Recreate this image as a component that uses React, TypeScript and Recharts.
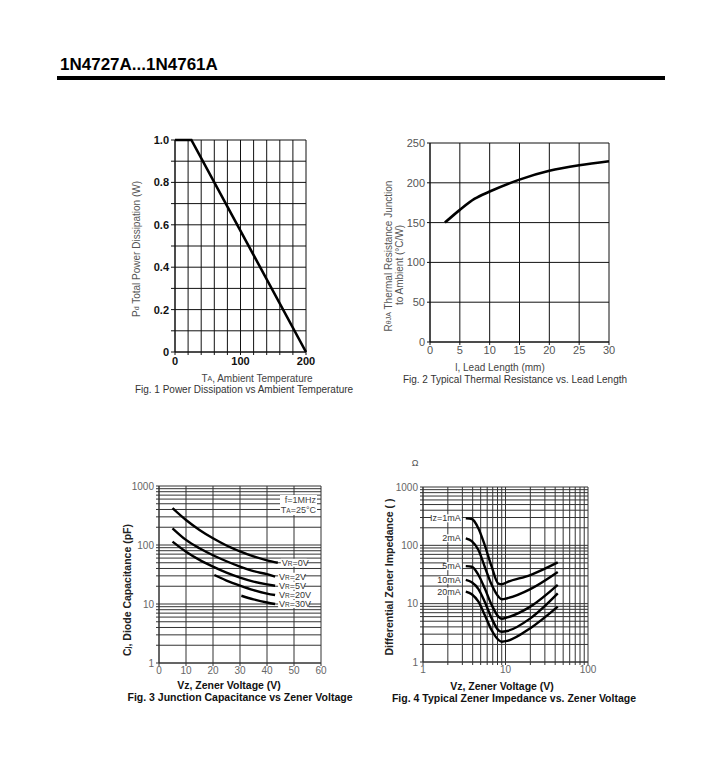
import React from "react";
import { LineChart, Line, XAxis, YAxis, CartesianGrid } from "recharts";

// ---------- Fig. 1 ----------
const FIG1_TEMP = [0, 25, 200];
const FIG1_POWER = [1.0, 1.0, 0];
const FIG1_X_TICKS = [0, 20, 40, 60, 80, 100, 120, 140, 160, 180, 200];
const FIG1_X_LABELS = [0, 100, 200];
const FIG1_Y_TICKS = [0, 0.1, 0.2, 0.3, 0.4, 0.5, 0.6, 0.7, 0.8, 0.9, 1.0];
const FIG1_Y_LABELS = [0, 0.2, 0.4, 0.6, 0.8, 1.0];

// ---------- Fig. 2 ----------
const FIG2_LEAD = [2.5, 5, 7.5, 10, 15, 20, 25, 30];
const FIG2_RTH = [150, 166, 180, 189, 204, 215, 222, 227];
const FIG2_X_TICKS = [0, 5, 10, 15, 20, 25, 30];
const FIG2_Y_TICKS = [0, 50, 100, 150, 200, 250];

// ---------- Fig. 3 ----------
const FIG3_VZ_A = [5, 10, 15, 20, 25, 30, 35, 40, 44];
const FIG3_VR0 = [420, 265, 180, 130, 98, 78, 64, 55, 50];
const FIG3_VZ_B = [5, 10, 15, 20, 25, 30, 35, 40, 43];
const FIG3_VR2 = [192, 122, 88, 67, 53, 43, 36, 32, 29];
const FIG3_VR5 = [114, 77, 56, 43, 34, 28, 24, 21.5, 20.4];
const FIG3_VZ_C = [20.5, 25, 30, 35, 40, 43];
const FIG3_VR20 = [31, 25, 20.5, 17.2, 15, 14.2];
const FIG3_VZ_D = [30.5, 35, 40, 43];
const FIG3_VR30 = [13.8, 12, 10.6, 10];
const FIG3_X_TICKS = [0, 10, 20, 30, 40, 50, 60];
const FIG3_Y_TICKS = [
  1, 2, 3, 4, 5, 6, 7, 8, 9, 10, 20, 30, 40, 50, 60, 70, 80, 90, 100, 200, 300, 400, 500, 600, 700, 800, 900, 1000,
];
const FIG3_Y_LABELS = [1, 10, 100, 1000];

// ---------- Fig. 4 ----------
const FIG4_VZ = [3.3, 3.9, 4.7, 5.6, 6.8, 8.2, 9.0, 10.5, 20, 43];
const FIG4_IZ1 = [290, 283, 195, 101, 43, 22, 21.5, 23.5, 31, 51];
const FIG4_IZ2 = [132, 118, 83, 43, 21, 13.2, 11.9, 12.4, 17.8, 35];
const FIG4_IZ5 = [44, 43, 31, 18.3, 9.5, 6, 5.5, 5.8, 8.9, 21];
const FIG4_IZ10 = [25.5, 23.2, 17.8, 10.8, 5.6, 3.5, 3.3, 3.4, 5.6, 15];
const FIG4_IZ20 = [16.1, 14.5, 10.8, 6.4, 3.5, 2.4, 2.23, 2.3, 3.8, 8.9];
const FIG4_X_TICKS = [1, 2, 3, 4, 5, 6, 7, 8, 9, 10, 20, 30, 40, 50, 60, 70, 80, 90, 100];
const FIG4_X_LABELS = [1, 10, 100];
const FIG4_Y_TICKS = FIG3_Y_TICKS;
const FIG4_Y_LABELS = [1, 10, 100, 1000];

const zip = (xs: number[], ys: number[]) => xs.map((x, i) => ({ x, y: ys[i] }));

const FONT = "'Liberation Sans', Arial, Helvetica, sans-serif";
const NARROW = "'Liberation Sans Narrow', 'Liberation Sans', Arial, sans-serif";

const boldTick = { fontSize: 11, fill: "#111", fontWeight: 700, fontFamily: FONT };
const grayTick = { fontSize: 11, fill: "#555", fontFamily: FONT };
const smallTick = { fontSize: 10, fill: "#666", fontFamily: NARROW };

const box = (left: number, top: number): React.CSSProperties => ({
  position: "absolute",
  left,
  top,
});

// Label drawn at a chosen point of a series (end or start), with a white box.
function pointLabel(text: React.ReactNode, chars: number, at: "start" | "end", count: number) {
  return (props: any) => {
    const { cx, cy, index } = props;
    const want = at === "start" ? 0 : count - 1;
    if (index !== want || cx == null || cy == null) return <g key={`d${index}`} />;
    const w = chars * 4.8;
    const x0 = at === "start" ? cx - 5 - w : cx + 4;
    return (
      <g key={`d${index}`}>
        <rect x={x0 - 1} y={cy - 4} width={w + 2} height={8} fill="#fff" />
        <text
          x={at === "start" ? cx - 5 : cx + 4}
          y={cy}
          textAnchor={at === "start" ? "end" : "start"}
          dominantBaseline="central"
          fontSize={9}
          fill="#333"
          fontFamily={NARROW}
        >
          {text}
        </text>
      </g>
    );
  };
}

const VR = (v: string) => (
  <>
    <tspan>V</tspan>
    <tspan fontSize={6.5}>R</tspan>
    <tspan>={v}</tspan>
  </>
);

export default function App() {
  const fig1 = zip(FIG1_TEMP, FIG1_POWER);
  const fig2 = zip(FIG2_LEAD, FIG2_RTH);
  const lines3 = [
    { d: zip(FIG3_VZ_A, FIG3_VR0), t: VR("0V"), c: 5 },
    { d: zip(FIG3_VZ_B, FIG3_VR2), t: VR("2V"), c: 5 },
    { d: zip(FIG3_VZ_B, FIG3_VR5), t: VR("5V"), c: 5 },
    { d: zip(FIG3_VZ_C, FIG3_VR20), t: VR("20V"), c: 6 },
    { d: zip(FIG3_VZ_D, FIG3_VR30), t: VR("30V"), c: 6 },
  ];
  const lines4 = [
    { d: zip(FIG4_VZ, FIG4_IZ1), t: "Iz=1mA", c: 6 },
    { d: zip(FIG4_VZ, FIG4_IZ2), t: "2mA", c: 3 },
    { d: zip(FIG4_VZ, FIG4_IZ5), t: "5mA", c: 3 },
    { d: zip(FIG4_VZ, FIG4_IZ10), t: "10mA", c: 4 },
    { d: zip(FIG4_VZ, FIG4_IZ20), t: "20mA", c: 4 },
  ];

  return (
    <div style={{ position: "absolute", left: 0, top: 0, width: 719, height: 768, background: "#fff", fontFamily: FONT }}>
      {/* Fig 1 */}
      <div style={box(120, 125)}>
        <LineChart width={200} height={247} margin={{ top: 15, right: 14, bottom: 0, left: 0 }}>
          <CartesianGrid stroke="#111" strokeWidth={1} />
          <XAxis
            type="number"
            dataKey="x"
            domain={[0, 200]}
            ticks={FIG1_X_TICKS}
            interval={0}
            height={20}
            tickSize={3}
            tickMargin={2}
            stroke="#111"
            tick={boldTick}
            tickFormatter={(v: number) => (FIG1_X_LABELS.includes(v) ? String(v) : "")}
          />
          <YAxis
            type="number"
            domain={[0, 1]}
            ticks={FIG1_Y_TICKS}
            interval={0}
            width={55}
            tickSize={4}
            tickMargin={2}
            stroke="#111"
            tick={boldTick}
            tickFormatter={(v: number) =>
              FIG1_Y_LABELS.some((l) => Math.abs(l - v) < 1e-9) ? (v === 0 ? "0" : v.toFixed(1)) : ""
            }
          />
          <Line data={fig1} dataKey="y" type="linear" stroke="#000" strokeWidth={2.6} dot={false} isAnimationActive={false} />
        </LineChart>
      </div>

      {/* Fig 2 */}
      <div style={box(370, 128)}>
        <LineChart width={250} height={234} margin={{ top: 15, right: 11, bottom: 0, left: 0 }}>
          <CartesianGrid stroke="#111" strokeWidth={1} />
          <XAxis
            type="number"
            dataKey="x"
            domain={[0, 30]}
            ticks={FIG2_X_TICKS}
            interval={0}
            height={20}
            tickSize={3}
            tickMargin={1}
            stroke="#111"
            tick={grayTick}
          />
          <YAxis
            type="number"
            domain={[0, 250]}
            ticks={FIG2_Y_TICKS}
            interval={0}
            width={60}
            tickSize={3}
            tickMargin={2}
            stroke="#111"
            tick={grayTick}
          />
          <Line data={fig2} dataKey="y" type="monotone" stroke="#000" strokeWidth={2.6} dot={false} isAnimationActive={false} />
        </LineChart>
      </div>

      {/* Fig 3 */}
      <div style={box(110, 476)}>
        <LineChart width={220} height={207} margin={{ top: 10, right: 9, bottom: 0, left: 0 }}>
          <CartesianGrid stroke="#333" strokeWidth={1} />
          <XAxis
            type="number"
            dataKey="x"
            domain={[0, 60]}
            ticks={FIG3_X_TICKS}
            interval={0}
            height={20}
            tickSize={3}
            tickMargin={1}
            stroke="#333"
            tick={smallTick}
          />
          <YAxis
            type="number"
            scale="log"
            domain={[1, 1000]}
            allowDataOverflow
            ticks={FIG3_Y_TICKS}
            interval={0}
            width={49}
            tickSize={3}
            tickMargin={2}
            stroke="#333"
            tick={smallTick}
            tickFormatter={(v: number) => (FIG3_Y_LABELS.includes(v) ? String(v) : "")}
          />
          {lines3.map((l, i) => (
            <Line
              key={i}
              data={l.d}
              dataKey="y"
              type="monotone"
              stroke="#000"
              strokeWidth={2.4}
              dot={pointLabel(l.t, l.c, "end", l.d.length)}
              isAnimationActive={false}
            />
          ))}
        </LineChart>
      </div>

      {/* Fig 4 */}
      <div style={box(370, 477)}>
        <LineChart width={230} height={205} margin={{ top: 10, right: 12, bottom: 0, left: 0 }}>
          <CartesianGrid stroke="#333" strokeWidth={1} />
          <XAxis
            type="number"
            dataKey="x"
            scale="log"
            domain={[1, 100]}
            allowDataOverflow
            ticks={FIG4_X_TICKS}
            interval={0}
            height={20}
            tickSize={3}
            tickMargin={1}
            stroke="#333"
            tick={smallTick}
            tickFormatter={(v: number) => (FIG4_X_LABELS.includes(v) ? String(v) : "")}
          />
          <YAxis
            type="number"
            scale="log"
            domain={[1, 1000]}
            allowDataOverflow
            ticks={FIG4_Y_TICKS}
            interval={0}
            width={53}
            tickSize={3}
            tickMargin={2}
            stroke="#333"
            tick={smallTick}
            tickFormatter={(v: number) => (FIG4_Y_LABELS.includes(v) ? String(v) : "")}
          />
          {lines4.map((l, i) => (
            <Line
              key={i}
              data={l.d}
              dataKey="y"
              type="monotone"
              stroke="#000"
              strokeWidth={2.4}
              dot={pointLabel(l.t, l.c, "start", l.d.length)}
              isAnimationActive={false}
            />
          ))}
        </LineChart>
      </div>

      {/* Overlay texts */}
      <svg width={719} height={768} style={{ position: "absolute", left: 0, top: 0, pointerEvents: "none" }}>
        <text x={60} y={64} fontSize={17} fontWeight={700} fill="#000" fontFamily={FONT} dominantBaseline="central">
          1N4727A...1N4761A
        </text>
        <rect x={57} y={76} width={608} height={4} fill="#000" />

        {/* Fig 1 texts */}
        <text
          transform="translate(136,249) rotate(-90)"
          textAnchor="middle"
          dominantBaseline="central"
          fontSize={10}
          fill="#555"
          fontFamily={FONT}
        >
          <tspan>P</tspan>
          <tspan fontSize={7}>d</tspan>
          <tspan> Total Power Dissipation (W)</tspan>
        </text>
        <text x={257} y={378} textAnchor="middle" dominantBaseline="central" fontSize={10} fill="#444" fontFamily={FONT}>
          <tspan>T</tspan>
          <tspan fontSize={7}>A</tspan>
          <tspan>, Ambient Temperature</tspan>
        </text>
        <text x={244} y={389} textAnchor="middle" dominantBaseline="central" fontSize={10} fill="#333" fontFamily={FONT}>
          Fig. 1 Power Dissipation vs Ambient Temperature
        </text>

        {/* Fig 2 texts */}
        <text
          transform="translate(388,256) rotate(-90)"
          textAnchor="middle"
          dominantBaseline="central"
          fontSize={10}
          fill="#555"
          fontFamily={FONT}
        >
          <tspan>R</tspan>
          <tspan fontSize={7}>θJA</tspan>
          <tspan> Thermal Resistance Junction</tspan>
        </text>
        <text
          transform="translate(399,265) rotate(-90)"
          textAnchor="middle"
          dominantBaseline="central"
          fontSize={10}
          fill="#555"
          fontFamily={FONT}
        >
          to Ambient (°C/W)
        </text>
        <text x={500} y={367} textAnchor="middle" dominantBaseline="central" fontSize={10} fill="#444" fontFamily={FONT}>
          l, Lead Length (mm)
        </text>
        <text x={515} y={379} textAnchor="middle" dominantBaseline="central" fontSize={10} fill="#333" fontFamily={FONT}>
          Fig. 2 Typical Thermal Resistance vs. Lead Length
        </text>

        {/* Fig 3 texts */}
        <rect x={280} y={495} width={37} height={20} fill="#fff" />
        <text x={316} y={500} textAnchor="end" dominantBaseline="central" fontSize={9} fill="#444" fontFamily={NARROW}>
          f=1MHz
        </text>
        <text x={316} y={510} textAnchor="end" dominantBaseline="central" fontSize={9} fill="#444" fontFamily={NARROW}>
          <tspan>T</tspan>
          <tspan fontSize={6.5}>A</tspan>
          <tspan>=25°C</tspan>
        </text>
        <text
          transform="translate(127,590) rotate(-90)"
          textAnchor="middle"
          dominantBaseline="central"
          fontSize={10.5}
          fontWeight={700}
          fill="#222"
          fontFamily={FONT}
        >
          <tspan>C</tspan>
          <tspan fontSize={7}>j</tspan>
          <tspan>, Diode Capacitance (pF)</tspan>
        </text>
        <text x={229} y={685} textAnchor="middle" dominantBaseline="central" fontSize={10.5} fontWeight={700} fill="#111" fontFamily={FONT}>
          Vz, Zener Voltage (V)
        </text>
        <text x={240} y={697} textAnchor="middle" dominantBaseline="central" fontSize={10.5} fontWeight={700} fill="#111" fontFamily={FONT}>
          Fig. 3 Junction Capacitance vs Zener Voltage
        </text>

        {/* Fig 4 texts */}
        <text x={415} y={463} textAnchor="middle" dominantBaseline="central" fontSize={9} fill="#555" fontFamily={FONT}>
          Ω
        </text>
        <text
          transform="translate(389,577) rotate(-90)"
          textAnchor="middle"
          dominantBaseline="central"
          fontSize={10.5}
          fontWeight={700}
          fill="#222"
          fontFamily={FONT}
        >
          Differential Zener Impedance (   )
        </text>
        <text x={502} y={686} textAnchor="middle" dominantBaseline="central" fontSize={10.5} fontWeight={700} fill="#111" fontFamily={FONT}>
          Vz, Zener Voltage (V)
        </text>
        <text x={514} y={698} textAnchor="middle" dominantBaseline="central" fontSize={10.5} fontWeight={700} fill="#111" fontFamily={FONT}>
          Fig. 4 Typical Zener Impedance vs. Zener Voltage
        </text>
      </svg>
    </div>
  );
}
